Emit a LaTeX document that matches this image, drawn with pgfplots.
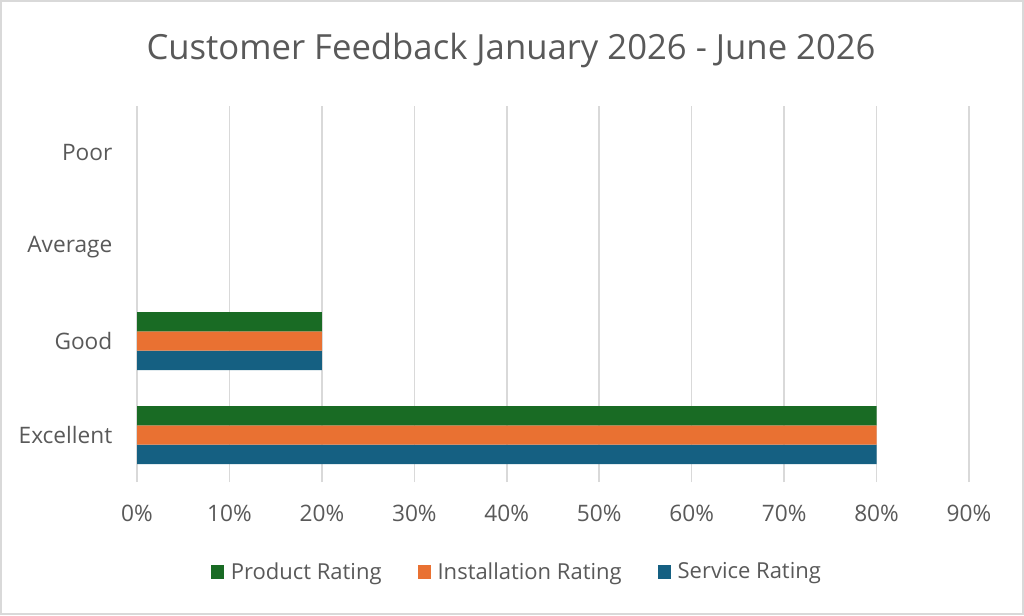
\documentclass[border=0pt]{standalone}
\usepackage{pgfplots}
\pgfplotsset{compat=1.18}
\usepackage{fontspec}
\setmainfont{Open Sans}
\definecolor{cgreen}{HTML}{196B24}
\definecolor{corange}{HTML}{E97132}
\definecolor{cblue}{HTML}{156082}
\definecolor{ctext}{HTML}{595959}
\definecolor{cgrid}{HTML}{D9D9D9}
\begin{document}
\begin{tikzpicture}
\useasboundingbox (0pt,0pt) rectangle (768pt,-461.25pt);
\fill[white] (0pt,0pt) rectangle (768pt,-461.25pt);
\draw[cgrid, line width=1.5pt] (0.75pt,-0.75pt) rectangle (767.25pt,-460.5pt);
\node[text=ctext, font=\fontsize{26}{30}\selectfont] at (383.25pt,-37.5pt) {Customer Feedback January 2026 - June 2026};
\begin{axis}[
  at={(102.75pt,-361.5pt)}, anchor=south west,
  scale only axis, width=624pt, height=282pt,
  xbar, bar width=14.5pt,
  xmin=0, xmax=90, ymin=-0.5, ymax=3.5,
  xtick={0,10,...,90},
  xticklabel={\pgfmathprintnumber{\tick}\%},
  ytick={0,1,2,3},
  yticklabels={Excellent,Good,Average,Poor},
  /pgf/number format/assume math mode=true,
  axis line style={draw=none},
  major tick length=0pt,
  xmajorgrids, grid style={cgrid, line width=1.2pt},
  ticklabel style={text=ctext, font=\fontsize{17}{20}\selectfont},
  xticklabel style={yshift=-14pt},
  yticklabel style={xshift=-15pt},
  legend style={draw=none, at={(0.457,-0.239)}, anchor=center, legend columns=3,
    font=\fontsize{16.5}{19}\selectfont, text=ctext,
    /tikz/every odd column/.append style={column sep=3pt},
    /tikz/every even column/.append style={column sep=25pt}},
  legend image code/.code={\fill[#1] (0pt,-5pt) rectangle (10pt,5pt);},
  reverse legend,
]
\addplot[fill=cblue, draw=none, bar shift=-14.5pt] coordinates {(80,0) (20,1)};
\addplot[fill=corange, draw=none, bar shift=0pt] coordinates {(80,0) (20,1)};
\addplot[fill=cgreen, draw=none, bar shift=14.5pt] coordinates {(80,0) (20,1)};
\legend{Service Rating, Installation Rating, Product Rating}
\end{axis}
\end{tikzpicture}
\end{document}
